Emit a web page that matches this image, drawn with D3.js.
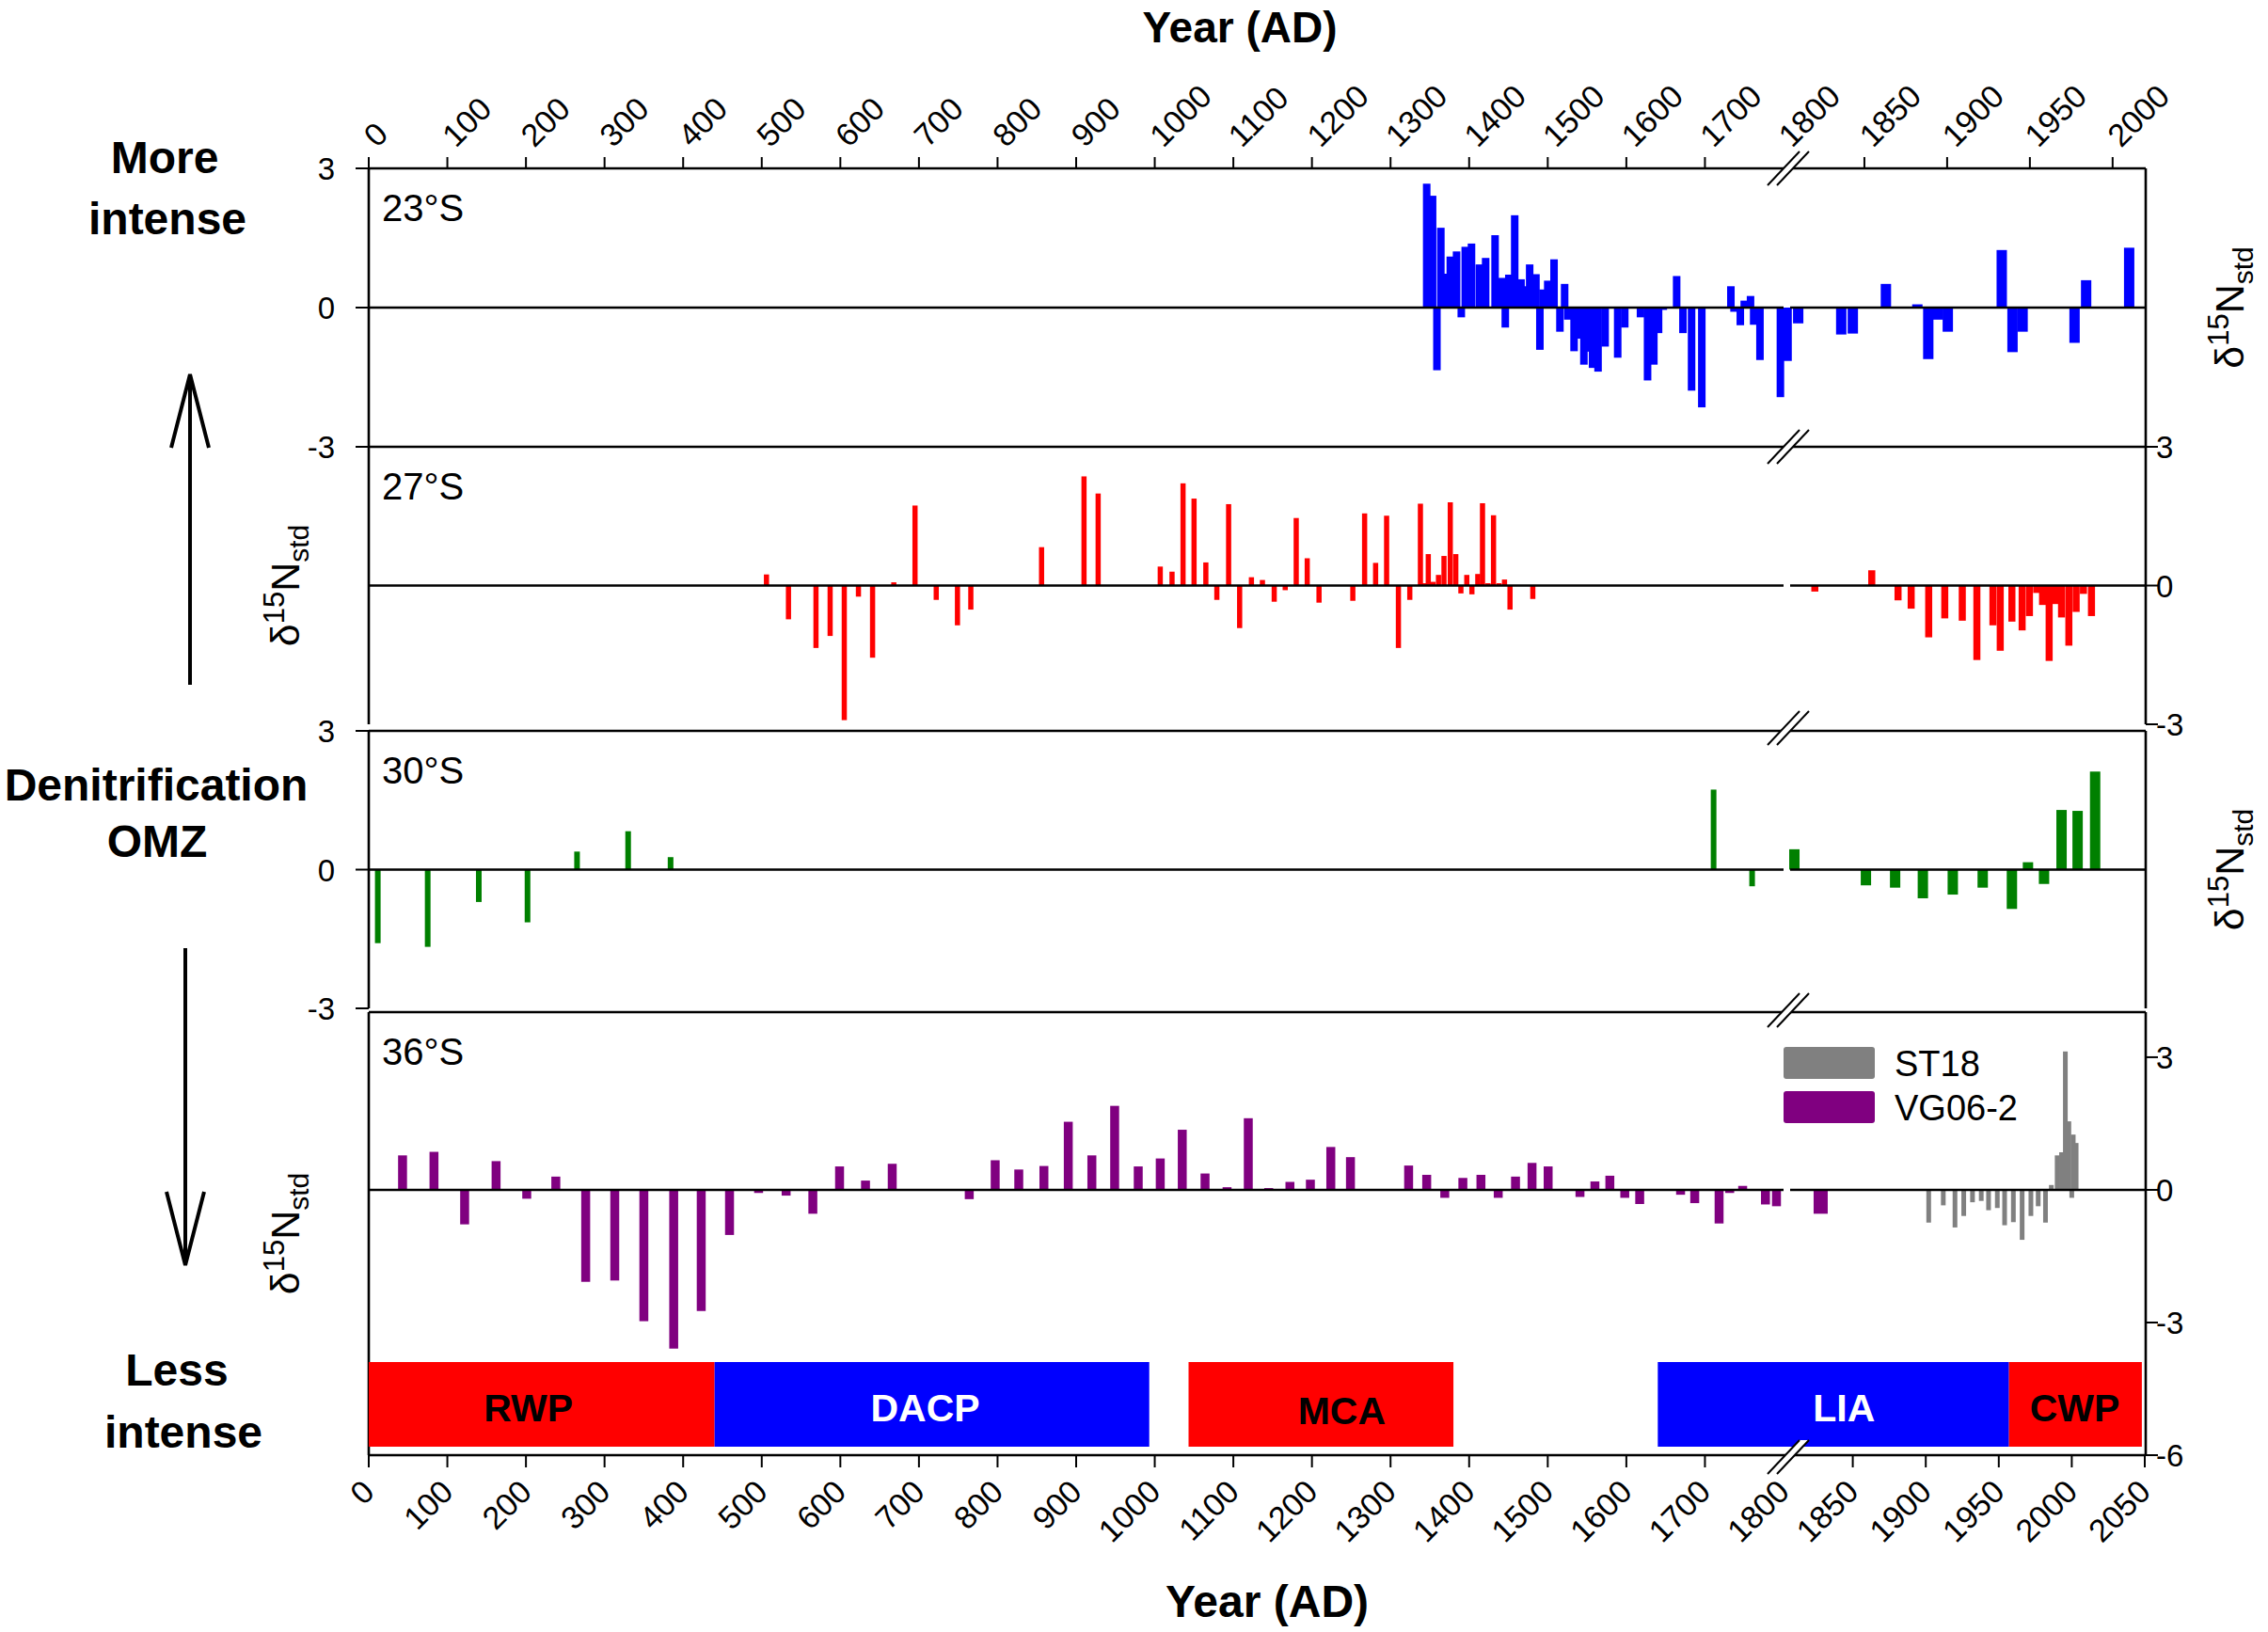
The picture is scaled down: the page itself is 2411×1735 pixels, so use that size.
<!DOCTYPE html>
<html><head><meta charset="utf-8">
<script src="https://cdn.jsdelivr.net/npm/d3@7"></script>
<style>body{margin:0;background:#fff}</style>
</head><body>
<svg id="c" width="2411" height="1735"></svg>
<script>
// ---------------- DATA ----------------
// [year AD, d15N std]
const s23S = [[1346,2.67],[1353.5,2.41],[1359,-1.35],[1364,1.72],[1371,0.73],[1376,1.10],[1384,1.21],[1390,-0.21],[1395,1.31],[1403,1.38],[1413,0.93],[1421,1.07],[1433,1.56],[1442,0.64],[1446,-0.43],[1450.5,0.71],[1458,1.99],[1466,0.61],[1470,0.46],[1477,0.93],[1485,0.72],[1490,-0.91],[1494,0.39],[1500,0.58],[1508,1.04],[1515.5,-0.52],[1521.5,0.51],[1525.5,-0.26],[1533.5,-0.94],[1537.5,-0.67],[1546,-1.23],[1553,-0.95],[1557,-1.30],[1564,-1.38],[1573,-0.84],[1589,-1.08],[1598,-0.43],[1618,-0.21],[1627,-1.57],[1635,-1.23],[1641,-0.55],[1647,-0.05],[1664,0.68],[1672,-0.55],[1683,-1.79],[1696,-2.15],[1733,0.46],[1737,-0.09],[1745,-0.38],[1750,0.15],[1758,0.25],[1762,-0.37],[1770,-1.13],[1796,-1.93],
  [1803,-1.15],[1810,-0.34],[1836,-0.58],[1843,-0.56],[1863,0.51],[1882,0.07],[1888.6,-1.11],[1894.5,-0.26],[1900.4,-0.52],[1933,1.24],[1939.5,-0.96],[1945.6,-0.52],[1977,-0.76],[1984,0.59],[2010,1.29]];
const s27S = [[506,0.24],[534,-0.73],[569,-1.35],[587,-1.09],[605,-2.91],[623,-0.24],[641,-1.56],[668,0.07],[695,1.73],[722,-0.31],[749,-0.86],[766,-0.52],[856,0.83],[910,2.36],[928,1.99],[1007,0.41],[1022,0.30],[1036,2.21],[1050,1.88],[1065,0.50],[1079,-0.31],[1094,1.76],[1108,-0.92],[1123,0.18],[1137,0.12],[1152,-0.35],[1166,-0.10],[1180,1.46],[1194,0.59],[1209,-0.37],[1252,-0.33],[1267,1.56],[1281,0.49],[1295,1.51],[1310,-1.35],[1324.5,-0.31],[1338,1.77],[1343,0.05],[1348,0.68],[1354,0.08],[1361,0.23],[1368,0.64],[1376,1.80],[1383,0.68],[1389.5,-0.17],[1397,0.23],[1403.5,-0.19],[1411,0.25],[1417,1.78],[1424,0.05],[1431,1.52],[1438,0.05],[1445,0.13],[1452,-0.52],[1481,-0.29],
  [1824,-0.13],[1863,0.33],[1881,-0.32],[1890,-0.50],[1902,-1.12],[1913,-0.71],[1925,-0.76],[1935,-1.61],[1946,-0.86],[1951,-1.41],[1959,-0.78],[1966,-0.97],[1971,-0.66],[1976,-0.16],[1980,-0.42],[1984.5,-1.63],[1989,-0.40],[1993,-0.69],[1998,-1.30],[2003,-0.57],[2008,-0.18],[2013.5,-0.66]];
const s30S = [[11.5,-1.59],[75,-1.67],[140,-0.70],[202,-1.14],[265,0.39],[330,0.83],[384,0.27],[1711,1.73],[1760,-0.36],
  [1810,0.44],[1859,-0.34],[1879,-0.39],[1898,-0.62],[1918.5,-0.54],[1939,-0.39],[1959,-0.85],[1970,0.16],[1981,-0.31],[1993,1.29],[2004,1.27],[2016,2.12]];
const sVG062 = [[43,0.78],[83,0.86],[122,-0.78],[162,0.65],[201,-0.20],[238,0.30],[276,-2.08],[313,-2.05],[350,-2.97],[388,-3.59],[423,-2.74],[459,-1.02],[496,-0.07],[531,-0.13],[565,-0.54],[599,0.53],[632,0.21],[666,0.59],[764,-0.21],[797,0.67],[827,0.46],[859,0.54],[890,1.54],[920,0.78],[949,1.90],[979,0.53],[1007,0.71],[1035,1.36],[1064,0.37],[1092,0.06],[1119,1.62],[1145,0.04],[1172,0.18],[1198,0.23],[1224,0.97],[1249,0.74],[1323,0.55],[1346,0.34],[1369,-0.18],[1392,0.27],[1415,0.34],[1437,-0.18],[1459,0.30],[1480,0.61],[1500.5,0.53],[1541,-0.16],[1560,0.19],[1579,0.32],[1598,-0.18],[1617,-0.32],[1669,-0.11],[1687,-0.30],[1718,-0.76],[1731.5,-0.07],[1748,0.09],[1777,-0.33],[1791,-0.37],[1828,-0.54]];
const sST18 = [[1902,-0.74],[1912,-0.35],[1920,-0.85],[1926,-0.59],[1932,-0.28],[1938,-0.25],[1943,-0.46],[1949,-0.41],[1954,-0.80],[1960,-0.73],[1966,-1.13],[1972,-0.59],[1977,-0.37],[1982,-0.74],[1986,0.11],[1990,0.78],[1993,0.85],[1995.6,3.13],[1998,1.55],[2000,-0.18],[2001,1.25],[2003,1.06]];
const periodNames = ['RWP','DACP','MCA','LIA','CWP'];
const periodStart = [0,440,1043,1640,1957];
const periodEnd   = [440,993,1380,1957,2048];
const periodLabelYear = [203,708,1238,1844,2002];
const periodColor = ['#ff0000','#0000ff','#ff0000','#0000ff','#ff0000'];
const periodText  = ['#000','#fff','#000','#fff','#000'];
const topTicksLeft = d3.range(0,1800,100);
const topTicksRight = [1850,1900,1950,2000];
const botTicksRight = [1850,1900,1950,2000,2050];
const legendNames = ['ST18','VG06-2'];

// ---------------- LAYOUT ----------------
const svg = d3.select('#c');
const FONT = "Arial, 'Liberation Sans', sans-serif";
const L = 392, R = 2281, BRK = 1899;
const xLeft = d3.scaleLinear().domain([0,1800]).range([L,1896]);
const xRTop = d3.scaleLinear().domain([1800,2020]).range([1894,R]);
const xRBot = d3.scaleLinear().domain([1800,2050]).range([1892,2280]);
const xTop = yr => yr <= 1800 ? xLeft(yr) : xRTop(yr);
const xBot = yr => yr <= 1800 ? xLeft(yr) : xRBot(yr);

const panels = [
  {label:'23°S', top:179, bottom:475, dom:[-3,3], xs:xTop, left:[3,0,-3], right:[], ylab:'right',
   series:[{d:s23S, c:'#0000ff', wL:8, wR:11}]},
  {label:'27°S', top:475, bottom:770, dom:[-3,3], xs:xBot, left:[], right:[3,0,-3], ylab:'left',
   series:[{d:s27S, c:'#ff0000', wL:5.5, wR:7.5}]},
  {label:'30°S', top:777, bottom:1072, dom:[-3,3], xs:xBot, left:[3,0,-3], right:[], ylab:'right',
   series:[{d:s30S, c:'#008000', wL:6, wR:11}]},
  {label:'36°S', top:1076, bottom:1547, dom:[-6,4.02], xs:xBot, left:[], right:[3,0,-3,-6], ylab:'left',
   series:[{d:sVG062, c:'#800080', wL:9.5, wR:15},{d:sST18, c:'#808080', wL:5, wR:5}]}
];

const gFrame = svg.append('g');
const gBars = svg.append('g');
const gTop = svg.append('g');

// period bars
const pY0 = 1448, pY1 = 1538;
periodNames.forEach((n,i)=>{
  const x0 = xBot(periodStart[i]), x1 = xBot(periodEnd[i]);
  gBars.append('rect').attr('x',x0).attr('y',pY0).attr('width',x1-x0).attr('height',pY1-pY0).attr('fill',periodColor[i]);
  gBars.append('text').attr('x',xBot(periodLabelYear[i])).attr('y',n==='MCA'?1514:1511).attr('text-anchor','middle')
    .attr('font-family',FONT).attr('font-weight','bold').attr('font-size',41).attr('fill',periodText[i]).text(n);
});

panels.forEach((p,pi)=>{
  const y = d3.scaleLinear().domain(p.dom).range([p.bottom,p.top]);
  p.series.forEach(s=>{
    const w = d => (d[0]<=1800 ? s.wL : s.wR);
    gBars.selectAll(null).data(s.d).enter().append('rect')
      .attr('x',d=>p.xs(d[0]) - w(d)/2)
      .attr('width',w)
      .attr('y',d=>Math.min(y(0),y(d[1])))
      .attr('height',d=>Math.abs(y(d[1])-y(0)))
      .attr('fill',s.c);
  });
  const y0 = y(0);
  gTop.append('line').attr('x1',L).attr('x2',BRK-3).attr('y1',y0).attr('y2',y0).attr('stroke','#000').attr('stroke-width',2.6);
  gTop.append('line').attr('x1',BRK+4).attr('x2',R).attr('y1',y0).attr('y2',y0).attr('stroke','#000').attr('stroke-width',2.6);
  gFrame.append('line').attr('x1',L).attr('x2',L).attr('y1',p.top).attr('y2',p.bottom).attr('stroke','#000').attr('stroke-width',2.6);
  gFrame.append('line').attr('x1',R).attr('x2',R).attr('y1',p.top).attr('y2',p.bottom).attr('stroke','#000').attr('stroke-width',2.6);
  gFrame.append('line').attr('x1',L).attr('x2',R).attr('y1',p.top).attr('y2',p.top).attr('stroke','#000').attr('stroke-width',2.6);
  if (pi===panels.length-1)
    gFrame.append('line').attr('x1',L).attr('x2',R).attr('y1',p.bottom).attr('y2',p.bottom).attr('stroke','#000').attr('stroke-width',2.6);
  p.left.forEach(v=>{
    gFrame.append('line').attr('x1',L-14).attr('x2',L).attr('y1',y(v)).attr('y2',y(v)).attr('stroke','#000').attr('stroke-width',2);
    gFrame.append('text').attr('x',356).attr('y',y(v)+12).attr('text-anchor','end')
      .attr('font-family',FONT).attr('font-size',33).text(String(v));
  });
  p.right.forEach(v=>{
    gFrame.append('line').attr('x1',R).attr('x2',R+13).attr('y1',y(v)).attr('y2',y(v)).attr('stroke','#000').attr('stroke-width',2);
    gFrame.append('text').attr('x',R+11).attr('y',y(v)+12).attr('text-anchor','start')
      .attr('font-family',FONT).attr('font-size',33).text(String(v));
  });
  gTop.append('text').attr('x',406).attr('y',p.top+56).attr('font-family',FONT).attr('font-size',40).text(p.label);
  const lx = p.ylab==='right' ? 2385 : 318;
  const t = gTop.append('text').attr('transform',`translate(${lx},${(p.top+p.bottom)/2}) rotate(-90)`)
    .attr('text-anchor','middle').attr('font-family',FONT).attr('font-size',43);
  t.append('tspan').text('δ');
  t.append('tspan').attr('font-size',31).attr('dy',-16).text('15');
  t.append('tspan').attr('dy',16).text('N');
  t.append('tspan').attr('font-size',30).attr('dy',10).text('std');
});

// break marks
[179,475,774,1074,1549].forEach(yb=>{
  const c = BRK+2, dx=17, dy=18, o=5;
  gTop.append('polygon').attr('points',`${c-o-dx},${yb+dy} ${c-o+dx},${yb-dy} ${c+o+dx},${yb-dy} ${c+o-dx},${yb+dy}`).attr('fill','#fff');
  [-o,o].forEach(k=>gTop.append('line').attr('x1',c+k-dx).attr('y1',yb+dy).attr('x2',c+k+dx).attr('y2',yb-dy).attr('stroke','#000').attr('stroke-width',2));
});

// top axis
const TOPY = 179;
topTicksLeft.concat(topTicksRight).forEach(v=>{
  const x = xTop(v);
  gFrame.append('line').attr('x1',x).attr('x2',x).attr('y1',TOPY-12).attr('y2',TOPY).attr('stroke','#000').attr('stroke-width',2);
});
topTicksLeft.concat([1800]).concat(topTicksRight).forEach(v=>{
  const x = v===1800 ? xLeft(1800) : xTop(v);
  gFrame.append('text').attr('transform',`translate(${x+9},158) rotate(-45)`).attr('text-anchor','start')
    .attr('font-family',FONT).attr('font-size',34).text(String(v));
});
// bottom axis
const BOTY = 1547;
topTicksLeft.concat(botTicksRight).forEach(v=>{
  const x = xBot(v);
  gFrame.append('line').attr('x1',x).attr('x2',x).attr('y1',BOTY).attr('y2',BOTY+13).attr('stroke','#000').attr('stroke-width',2);
});
topTicksLeft.concat([1800]).concat(botTicksRight).forEach(v=>{
  const x = v===1800 ? xLeft(1800) : xBot(v);
  gFrame.append('text').attr('transform',`translate(${x+8},1588) rotate(-45)`).attr('text-anchor','end')
    .attr('font-family',FONT).attr('font-size',34).text(String(v));
});
// axis titles
gTop.append('text').attr('x',1318).attr('y',45).attr('text-anchor','middle').attr('font-family',FONT)
  .attr('font-weight','bold').attr('font-size',46).text('Year (AD)');
gTop.append('text').attr('x',1347).attr('y',1719).attr('text-anchor','middle').attr('font-family',FONT)
  .attr('font-weight','bold').attr('font-size',48).text('Year (AD)');

// legend
const legColors = ['#808080','#800080'];
legendNames.forEach((n,i)=>{
  gTop.append('rect').attr('x',1896).attr('y',1113+i*47).attr('width',97).attr('height',34).attr('rx',3).attr('fill',legColors[i]);
  gTop.append('text').attr('x',2014).attr('y',1144+i*47).attr('font-family',FONT).attr('font-size',38).text(n);
});

// side annotations
const side = [['More',175,184],['intense',178,249],['Denitrification',166,851],['OMZ',167,911],['Less',188,1473],['intense',195,1539]];
side.forEach(s=>gTop.append('text').attr('x',s[1]).attr('y',s[2]).attr('text-anchor','middle')
  .attr('font-family',FONT).attr('font-weight','bold').attr('font-size',48).text(s[0]));
function arrow(x, yFrom, yTip){
  const dir = yTip < yFrom ? 1 : -1;
  gTop.append('line').attr('x1',x).attr('x2',x).attr('y1',yFrom).attr('y2',yTip).attr('stroke','#000').attr('stroke-width',4);
  gTop.append('polyline').attr('points',`${x-20},${yTip+dir*78} ${x},${yTip} ${x+20},${yTip+dir*78}`)
    .attr('fill','none').attr('stroke','#000').attr('stroke-width',4);
}
arrow(202, 728, 398);
arrow(197, 1008, 1345);
</script>
</body></html>
